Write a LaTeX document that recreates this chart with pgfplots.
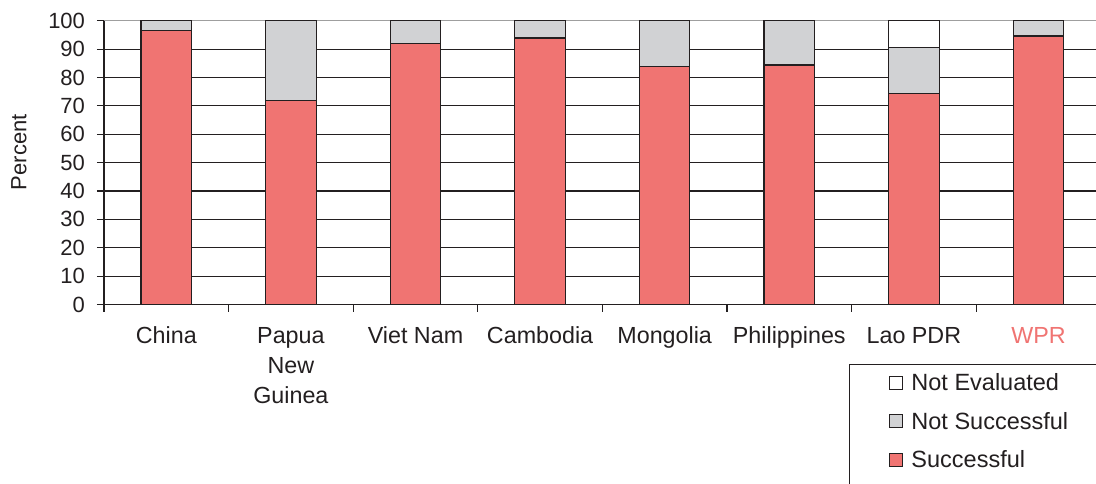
\documentclass[border=0pt]{standalone}
\usepackage{pgfplots}
\pgfplotsset{compat=1.18}
\usepackage{fontspec}
\setmainfont{Liberation Sans}
\definecolor{succ}{HTML}{F07472}
\definecolor{nsucc}{HTML}{D1D2D4}
\definecolor{ink}{HTML}{231F20}
\begin{document}
\begin{tikzpicture}
\path[use as bounding box] (-104pt,-178.5pt) rectangle (992pt,304.5pt);
\clip (-104pt,-178.5pt) rectangle (992pt,304.5pt);
\begin{axis}[
  at={(0pt,0pt)}, anchor=south west,
  scale only axis, width=996.8pt, height=283.8pt,
  xmin=-0.5, xmax=7.5, ymin=0, ymax=100,
  ybar stacked, bar width=50.5pt,
  axis x line*=bottom, axis y line*=left,
  axis line style={ink, line width=1.1pt},
  every tick/.style={ink, line width=1.1pt},
  tick align=outside,
  xtick={0,...,7},
  xticklabels={China, Papua\\New\\Guinea, Viet Nam, Cambodia, Mongolia, Philippines, Lao PDR, \textcolor{succ}{WPR}},
  major x tick style={draw=none},
  minor xtick={-0.5,0.5,...,6.5},
  minor tick length=7pt,
  xticklabel style={align=center, font=\fontsize{23.3}{30}\selectfont, text=ink, yshift=-12pt},
  ytick={0,10,...,90},
  extra y ticks={100},
  extra y tick style={grid style={gray!75, line width=1.1pt}},
  major tick length=7pt,
  ymajorgrids,
  grid style={ink, line width=1.1pt},
  yticklabel style={font=\fontsize{22}{26}\selectfont, text=ink, xshift=-8.5pt},
  /pgf/number format/assume math mode=true,
  ylabel={Percent},
  ylabel style={font=\fontsize{22}{26}\selectfont, text=ink, at={(axis description cs:-0.0853,0.537)}, anchor=center},
  legend style={at={(0.7474,-0.2097)}, anchor=north west, draw=ink, line width=1.1pt,
    font=\fontsize{23.5}{27}\selectfont, text=ink,
    inner xsep=39pt, inner ysep=7pt, row sep=16pt,
    /tikz/every odd column/.append style={column sep=7pt},
    legend cell align=left},
  legend image code/.code={\draw[#1,draw=ink,line width=0.9pt] (0pt,-6.5pt) rectangle (13pt,6.5pt);},
]
\addplot[fill=succ, draw=ink, line width=1.1pt, forget plot] coordinates {
  (0,96.4) (1,71.8) (2,92.1) (3,93.9) (4,83.8) (5,84.4) (6,74.2) (7,94.6)};
\addplot[fill=nsucc, draw=ink, line width=1.1pt, forget plot] coordinates {
  (0,3.6) (1,28.2) (2,7.9) (3,6.1) (4,16.2) (5,15.6) (6,16.5) (7,5.4)};
\addplot[fill=white, draw=ink, line width=1.1pt, forget plot] coordinates {
  (0,0) (1,0) (2,0) (3,0) (4,0) (5,0) (6,9.3) (7,0)};
% legend, top to bottom
\addlegendimage{fill=white}
\addlegendentry{Not Evaluated}
\addlegendimage{fill=nsucc}
\addlegendentry{Not Successful}
\addlegendimage{fill=succ}
\addlegendentry{Successful}
\addlegendimage{empty legend}
\addlegendentry{}
\end{axis}
\end{tikzpicture}
\end{document}
